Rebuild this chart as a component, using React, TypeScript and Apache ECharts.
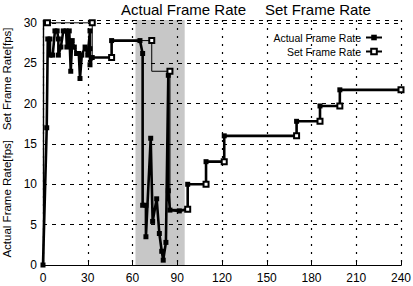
import React, { useEffect, useRef } from "react";
import * as echarts from "echarts";

const FONT = "'Liberation Sans', Arial, Helvetica, sans-serif";

const xTicks = [0, 30, 60, 90, 120, 150, 180, 210, 240];
const yTicks = [0, 5, 10, 15, 20, 25, 30];

const actualTime = [
  0, 2.5, 3.2, 4.7, 4.7, 6.5, 8, 9.5, 10.3, 10.3, 12, 13.6, 15.5, 16, 17.6, 18.6, 19.6, 21, 22.5, 24, 24.8, 26,
  28.2, 30, 31.5, 31.5, 31.5, 33, 46, 46, 65, 66.8, 66.8, 69, 69, 72.2, 73.5, 76.2, 78, 79.6, 80.6, 82.4, 84,
  84, 85.1, 91.4, 97, 97, 109.3, 109.3, 121.5, 121.5, 170, 170, 185.7, 185.7, 199, 199, 240,
];
const actualFps = [
  0, 17, 28, 28, 26, 26, 29, 29, 28, 26, 27, 29, 29, 27, 29, 24, 27.8, 27, 26.2, 26.2, 23.1, 26,
  27, 26, 29, 26.8, 24.8, 25.7, 25.7, 27.8, 27.8, 26.2, 7.4, 7.4, 3.5, 15.7, 5.4, 8.2, 3.9, 1.7, 0.6, 2.8, 23.5,
  9.2, 6.8, 6.7, 6.9, 10, 10, 12.8, 12.8, 16, 16, 17.8, 17.8, 19.7, 19.7, 21.7, 21.7,
];

const setTime = [3, 33, 46, 72.9, 85.1, 97, 109.3, 121.5, 170, 185.7, 199, 240];
const setFps = [30, 30, 25.7, 27.8, 24, 6.9, 10, 12.8, 16, 17.8, 19.7, 21.7];

const shadedRange = [62, 95];

export default function App() {
  const ref = useRef<HTMLDivElement>(null);
  useEffect(() => {
    if (!ref.current) return;
    const chart = echarts.init(ref.current, undefined, { renderer: "svg" });
    const actualData = actualTime.map((t, i) => [t, actualFps[i]]);
    const setData = setTime.map((t, i) => [t, setFps[i]]);
    chart.setOption({
      animation: false,
      backgroundColor: "#fff",
      textStyle: { fontFamily: FONT, color: "#000" },
      title: [
        { text: "Actual Frame Rate", left: 121, top: 2, padding: 0, textStyle: { fontSize: 15, fontWeight: "normal", color: "#000", fontFamily: FONT } },
        { text: "Set Frame Rate", left: 265, top: 2, padding: 0, textStyle: { fontSize: 15, fontWeight: "normal", color: "#000", fontFamily: FONT } },
      ],
      legend: {
        data: ["Actual Frame Rate", "Set Frame Rate"],
        orient: "vertical",
        align: "right",
        right: 30,
        top: 32,
        itemWidth: 16,
        itemHeight: 7,
        itemGap: 3,
        padding: 0,
        textStyle: { fontSize: 10.5, color: "#000", fontFamily: FONT },
      },
      grid: { left: 43, right: 12, top: 20, bottom: 21, outerBoundsMode: "none", containLabel: false },
      xAxis: [
        {
          type: "value",
          min: 0,
          max: 240,
          interval: 30,
          name: "Time [sec]",
          nameLocation: "middle",
          nameGap: 19,
          nameTextStyle: { fontSize: 12, color: "#000", fontFamily: FONT },
          axisLine: { lineStyle: { color: "#000", width: 1.2 } },
          axisTick: { inside: true, length: 4, lineStyle: { color: "#000" } },
          axisLabel: {
            fontSize: 12,
            color: "#000",
            margin: 7,
            fontFamily: FONT,
            formatter: (v: number) => (xTicks.includes(v) ? String(v) : ""),
          },
          splitLine: { show: true, lineStyle: { color: "#000", type: [2, 6], width: 1.2, opacity: 1 } },
        },
        {
          type: "value",
          position: "top",
          min: 0,
          max: 240,
          axisLine: { show: true, lineStyle: { color: "#000", width: 1.2 } },
          axisTick: { show: false },
          axisLabel: { show: false },
          splitLine: { show: false },
        },
      ],
      yAxis: [
        {
          type: "value",
          min: 0,
          max: 30.35,
          interval: 5,
          name: "Actual Frame Rate[fps]   Set Frame Rate[fps]",
          nameLocation: "middle",
          nameGap: 27,
          nameTextStyle: { fontSize: 11.5, color: "#000", fontFamily: FONT },
          axisLine: { show: true, lineStyle: { color: "#000", width: 1.2 } },
          axisTick: { show: true, inside: true, length: 4, lineStyle: { color: "#000" } },
          axisLabel: {
            fontSize: 12,
            color: "#000",
            margin: 6,
            fontFamily: FONT,
            formatter: (v: number) => (yTicks.includes(v) ? String(v) : ""),
          },
          splitLine: { show: true, lineStyle: { color: "#000", type: [4, 5], width: 1, opacity: 1 } },
        },
        {
          type: "value",
          position: "right",
          min: 0,
          max: 30.35,
          axisLine: { show: true, lineStyle: { color: "#000", width: 1.2 } },
          axisTick: { show: false },
          axisLabel: { show: false },
          splitLine: { show: false },
        },
      ],
      series: [
        {
          name: "Actual Frame Rate",
          type: "line",
          xAxisIndex: 0,
          yAxisIndex: 0,
          data: actualData,
          symbol: "rect",
          symbolSize: 5,
          lineStyle: { color: "#000", width: 2.6 },
          itemStyle: { color: "#000" },
          z: 3,
          markArea: {
            silent: true,
            itemStyle: { color: "rgba(0,0,0,0.22)" },
            data: [[{ xAxis: shadedRange[0] }, { xAxis: shadedRange[1] }]],
          },
        },
        {
          name: "Set Frame Rate",
          type: "line",
          xAxisIndex: 0,
          yAxisIndex: 0,
          step: "start",
          data: setData,
          symbol: "emptyRect",
          symbolSize: 5,
          lineStyle: { color: "#000", width: 1 },
          itemStyle: { color: "#000", borderWidth: 1 },
          z: 4,
        },
      ],
    });
    return () => chart.dispose();
  }, []);
  return <div ref={ref} style={{ position: "fixed", left: 0, top: 0, width: 413, height: 286 }} />;
}
